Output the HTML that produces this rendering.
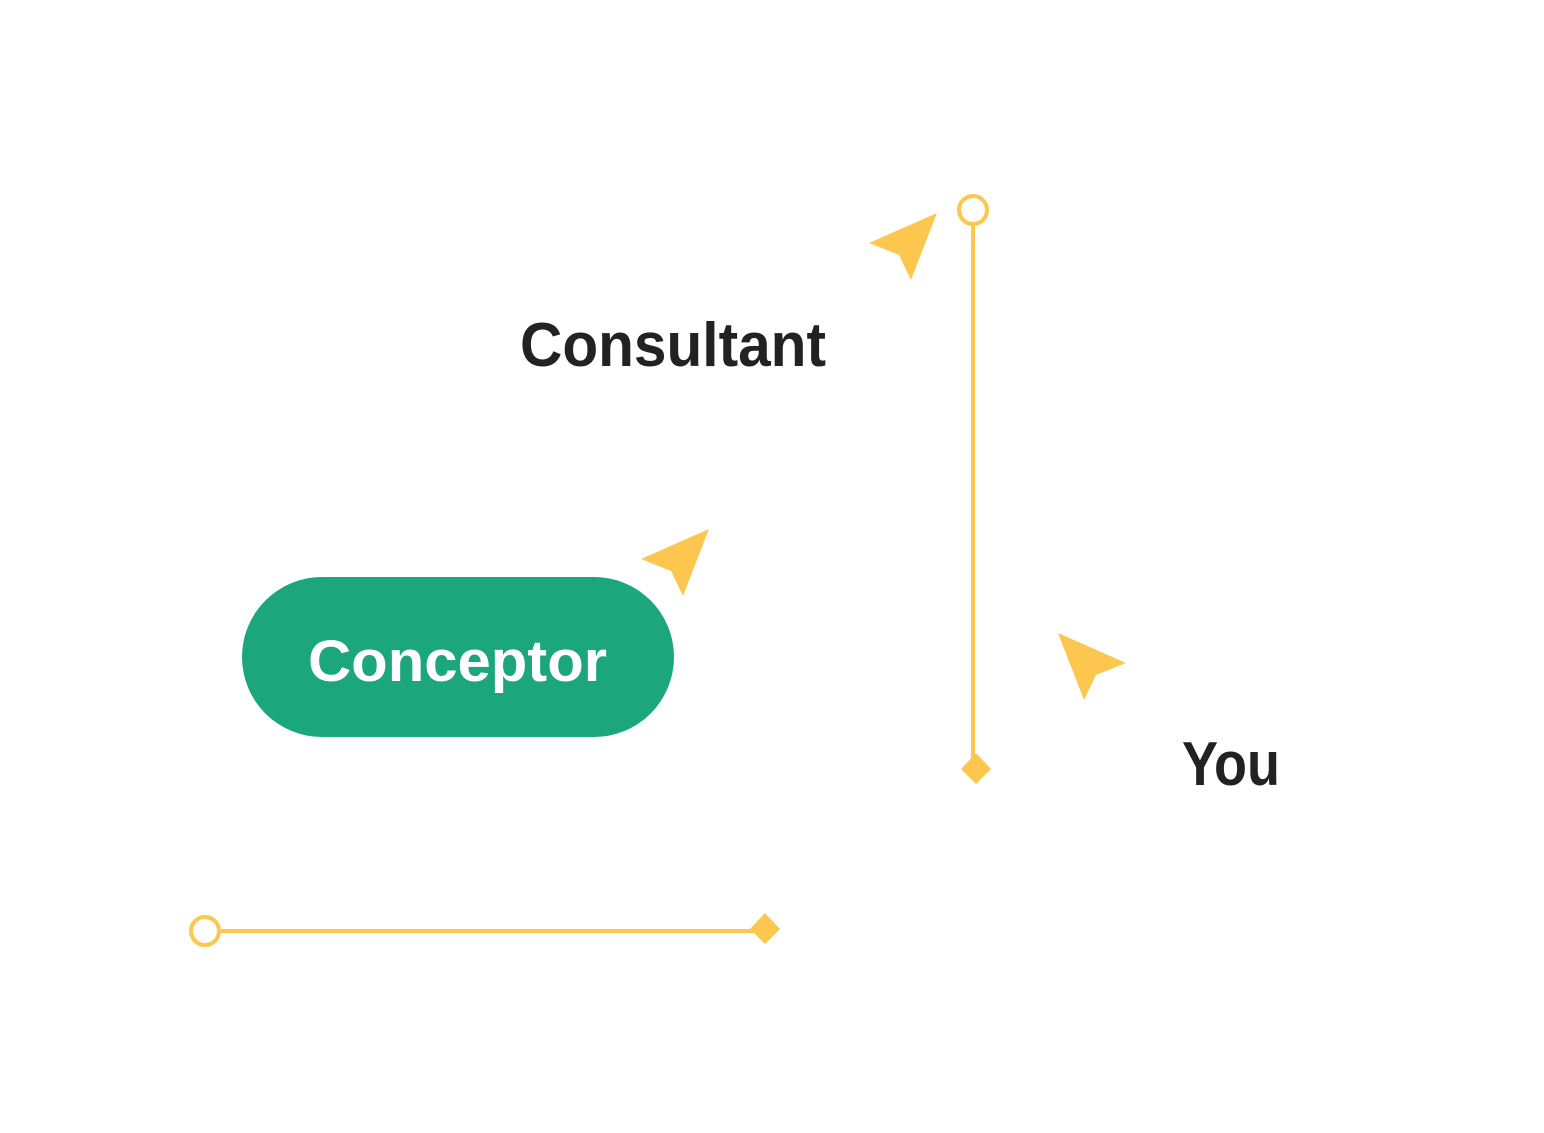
<!DOCTYPE html>
<html><head><meta charset="utf-8"><style>html,body{margin:0;padding:0;background:#fff}svg{display:block}</style></head>
<body>
<svg width="1544" height="1133" viewBox="0 0 1544 1133" xmlns="http://www.w3.org/2000/svg">
<rect width="1544" height="1133" fill="#fff"/>
<g fill="#FDC74F">
<polygon points="869,243 937,213 911,280 899,255"/>
<polygon points="641,559 709,529 683,596 671,571"/>
<polygon points="1126,663 1058,633 1084,700 1096,675"/>
<polygon points="976,753 991,769 976,784 961,769"/>
<polygon points="765,913 780,929 765,944 750,929"/>
</g>
<g stroke="#FDC74F" stroke-width="4" fill="none">
<line x1="973" y1="226" x2="973" y2="762"/>
<circle cx="973" cy="210" r="14"/>
<line x1="221" y1="931" x2="756" y2="931"/>
<circle cx="205" cy="931" r="14"/>
</g>
<rect x="242" y="577" width="432" height="160" rx="80" fill="#1BA67B"/>
<g font-family="Liberation Sans, sans-serif" font-weight="bold">
<text x="520" y="366" font-size="62" fill="#222" textLength="306" lengthAdjust="spacingAndGlyphs">Consultant</text>
<text x="308" y="681" font-size="58" fill="#fff" textLength="299" lengthAdjust="spacingAndGlyphs">Conceptor</text>
<text x="1182" y="785" font-size="62" fill="#222" textLength="98" lengthAdjust="spacingAndGlyphs">You</text>
</g>
</svg>
</body></html>
